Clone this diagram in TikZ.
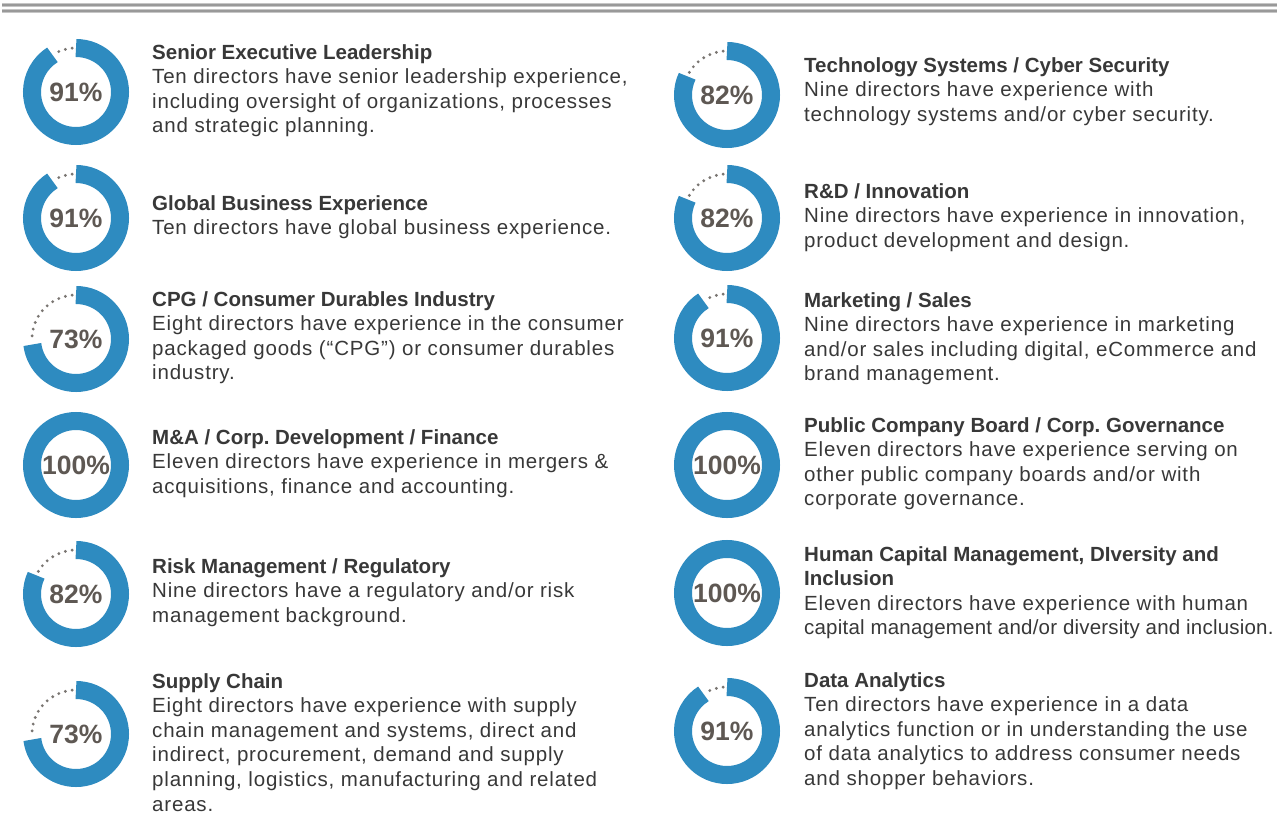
\documentclass[tikz,border=0pt]{standalone}
\usepackage{fontspec}
\setmainfont{Liberation Sans}
\newfontfamily\spacedfont[LetterSpace=4]{Liberation Sans}
\newfontfamily\tightfont[LetterSpace=1]{Liberation Sans}
\newfontfamily\headfont{Liberation Sans}
\newcommand\headline[1]{{\headfont\bfseries #1}}
\usepackage{tikz}

\definecolor{ringblue}{HTML}{2E8BC0}
\definecolor{dotgray}{HTML}{7A7672}
\definecolor{pctgray}{HTML}{5E5853}
\definecolor{bodygray}{HTML}{383838}

\begin{document}
\frenchspacing
\begin{tikzpicture}[x=1pt,y=1pt,
  ring/.style={draw=ringblue,line width=18pt},
  rest/.style={draw=dotgray,line width=3.2pt,line cap=round,dash pattern=on 0pt off 6.9pt},
  pct/.style={font=\fontsize{26.5}{26.5}\selectfont\bfseries,text=pctgray,inner sep=0pt},
  blurb/.style={anchor=north west,inner sep=0pt,align=left,text=bodygray,
    font=\fontsize{20.5}{24.6}\spacedfont,execute at begin node=\rule{0pt}{16pt}},
  toprule/.style={draw=gray!45,line width=3.5pt}
]
\fill[white] (0,0) rectangle (1279,-818);
\useasboundingbox (0,0) rectangle (1279,-818);

% The double rule on top
\draw[toprule] (2,-5) -- (1277,-5);
\draw[toprule] (2,-11) -- (1277,-11);
\draw[gray!80,line width=1.2pt] (2,-5) -- (1277,-5) (2,-11) -- (1277,-11);

% The rings
\foreach \cx/\cy/\p/\nm in {76/92/91/senior, 76/218/91/global, 76/339/73/cpg,
  76/465/100/mna, 76/594/82/risk, 76/734/73/supply,
  727/95/82/tech, 727/218/82/rnd, 727/338/91/mkt,
  727/465/100/board, 727/593/100/human, 727/731/91/data}{
  \ifnum\p<100
    \draw[ring] (\cx,-\cy) ++(90:44) arc[start angle=90,delta angle=-3.6*\p,radius=44];
    \draw[rest] (\cx,-\cy) ++(95:44) arc[start angle=95,end angle={85+3.6*(100-\p)},radius=44];
  \else
    \draw[ring] (\cx,-\cy) circle[radius=44];
  \fi
  \node[pct] (\nm) at (\cx,-\cy) {\p\%};
}

% The left column
\node[blurb] (senior-txt) at (152,-44) {\headline{Senior Executive Leadership}\\
  Ten directors have senior leadership experience,\\
  including oversight of organizations, processes\\
  and strategic planning.};
\node[blurb] (global-txt) at (152,-195) {\headline{Global Business Experience}\\
  Ten directors have global business experience.};
\node[blurb] (cpg-txt) at (152,-291) {\headline{CPG / Consumer Durables Industry}\\
  Eight directors have experience in the consumer\\
  packaged goods (“CPG”) or consumer durables\\
  industry.};
\node[blurb] (mna-txt) at (152,-429) {\headline{M\&A / Corp. Development / Finance}\\
  Eleven directors have experience in mergers \&\\
  acquisitions, finance and accounting.};
\node[blurb] (risk-txt) at (152,-558) {\headline{Risk Management / Regulatory}\\
  Nine directors have a regulatory and/or risk\\
  management background.};
\node[blurb] (supply-txt) at (152,-673) {\headline{Supply Chain}\\
  Eight directors have experience with supply\\
  chain management and systems, direct and\\
  indirect, procurement, demand and supply\\
  planning, logistics, manufacturing and related\\
  areas.};

% The right column
\node[blurb] (tech-txt) at (804,-57) {\headline{Technology Systems / Cyber Security}\\
  Nine directors have experience with\\
  technology systems and/or cyber security.};
\node[blurb] (rnd-txt) at (804,-183) {\headline{R\&D / Innovation}\\
  Nine directors have experience in innovation,\\
  product development and design.};
\node[blurb] (mkt-txt) at (804,-292) {\headline{Marketing / Sales}\\
  Nine directors have experience in marketing\\
  and/or sales including digital, eCommerce and\\
  brand management.};
\node[blurb] (board-txt) at (804,-417) {\headline{Public Company Board / Corp. Governance}\\
  Eleven directors have experience serving on\\
  other public company boards and/or with\\
  corporate governance.};
\node[blurb] (human-txt) at (804,-546) {\headline{Human Capital Management, DIversity and}\\
  \headline{Inclusion}\\
  Eleven directors have experience with human\\
  {\tightfont capital management and/or diversity and inclusion.}};
\node[blurb] (data-txt) at (804,-672) {\headline{Data Analytics}\\
  Ten directors have experience in a data\\
  analytics function or in understanding the use\\
  of data analytics to address consumer needs\\
  and shopper behaviors.};
\end{tikzpicture}
\end{document}
